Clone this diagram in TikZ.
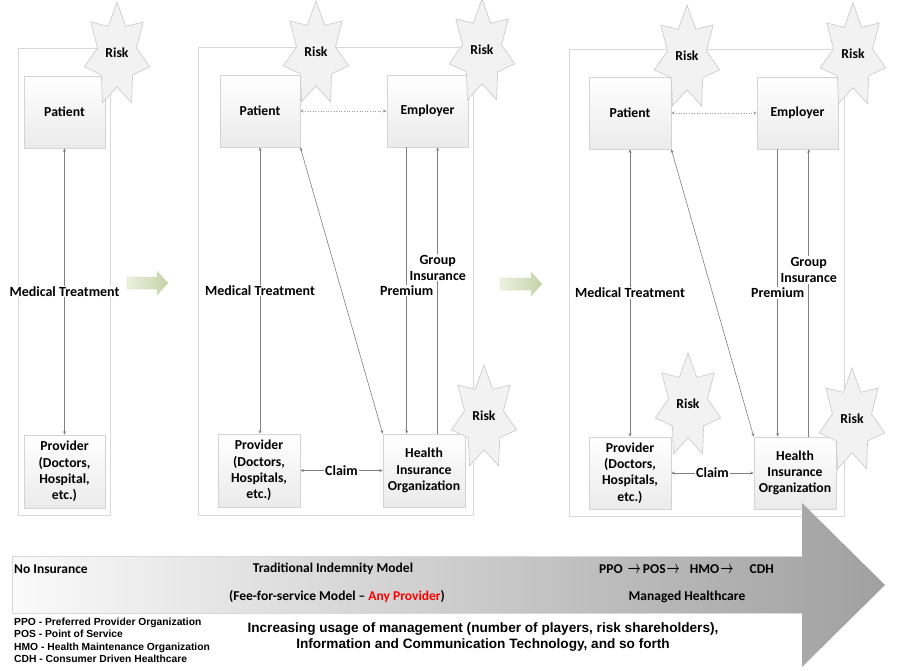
\documentclass[tikz,border=0pt]{standalone}
\usepackage{fontspec}
\usepackage{graphicx}
\setmainfont{Carlito}[BoldFont={Carlito Bold}]
\newfontfamily\arialf{Liberation Sans}[BoldFont={Liberation Sans Bold}]
\usetikzlibrary{arrows.meta,calc}
\definecolor{framec}{RGB}{217,217,217}
\definecolor{boxb}{RGB}{212,212,212}
\definecolor{linec}{RGB}{128,128,128}
\definecolor{starf}{RGB}{242,242,242}
\definecolor{stard}{RGB}{200,200,200}
\definecolor{greenA}{RGB}{236,241,224}
\definecolor{greenB}{RGB}{196,210,166}
\definecolor{bigA}{RGB}{250,250,250}
\definecolor{bigB}{RGB}{160,160,160}
\tikzset{
  >={Stealth[length=3.5pt,width=3pt]},
  frame/.style={draw=framec, line width=0.8pt, inner sep=0pt},
  box/.style={draw=boxb, line width=0.6pt, top color=white, bottom color=gray!16,
    minimum width=81pt, minimum height=72pt, inner sep=1pt, align=center,
    font=\bfseries\fontsize{13.7}{16.3}\selectfont},
  conn/.style={draw=linec, line width=0.6pt},
  dotconn/.style={draw=linec!80, line width=0.6pt, dotted},
  lbl/.style={fill=white, inner sep=1pt, align=center, font=\bfseries\fontsize{14}{16}\selectfont},
  riskshape/.style={fill=starf, draw=stard, line width=0.6pt},
  risktext/.style={inner sep=0pt, font=\bfseries\fontsize{13.7}{16}\selectfont},
  greenarrow/.style={left color=greenA, right color=greenB, draw=greenB!80, line width=0.4pt},
  bigarrow/.style={left color=bigA, right color=bigB, draw=none},
  arrtext/.style={inner sep=0pt, font=\bfseries\fontsize{13.5}{15}\selectfont},
}
\newcommand\riskstar[3]{%
  \draw[riskshape] ($(#2,#3)+(-90:33.5 and 53)$)
    \foreach \k in {1,...,7}{ -- ($(#2,#3)+({-90+(\k-0.5)*360/7}:20 and 31.8)$)
      -- ($(#2,#3)+({-90+\k*360/7}:33.5 and 53)$)} -- cycle;
  \node[risktext] (#1) at (#2,#3-2) {Risk};}
\newcommand\thinarrow{\scalebox{0.8}[1.25]{\boldmath$\rightarrow$}}
\begin{document}
\begin{tikzpicture}[x=1pt,y=-1pt]
\useasboundingbox (0,0) rectangle (902,671);
\fill[white] (0,0) rectangle (902,671);

% frames
\node[frame, minimum width=92pt, minimum height=467pt] (f1) at (64,281.5) {};
\node[frame, minimum width=275pt, minimum height=468pt] (f2) at (335.5,281) {};
\node[frame, minimum width=275pt, minimum height=467pt] (f3) at (706.5,282.5) {};

% panel 1
\node[box] (p1pat) at (64.5,112) {Patient};
\node[box, minimum height=73pt] (p1pro) at (64.5,471.5) {Provider\\(Doctors,\\Hospital,\\etc.)};
\draw[conn,<->] (p1pat.south) -- node[lbl] {Medical Treatment} (p1pro.north);

% panel 2
\node[box, minimum width=80pt] (p2pat) at (260,111) {Patient};
\node[box] (p2emp) at (427.5,111) {Employer};
\node[box, minimum width=82pt, minimum height=73pt] (p2pro) at (259,470.5) {Provider\\(Doctors,\\Hospitals,\\etc.)};
\node[box, minimum width=82pt, minimum height=73pt] (p2hio) at (424,470.5) {Health\\Insurance\\Organization};
\draw[conn,<->] (p2pat.south) -- node[lbl] {Medical Treatment} (p2pat.south |- p2pro.north);
\draw[dotconn,<->] (p2pat.east) -- (p2emp.west);
\coordinate (p2a) at ($(p2emp.south west)+(20,0)$);
\coordinate (p2b) at ($(p2emp.south west)+(51,0)$);
\draw[conn,->] (p2a) -- node[lbl, pos=0.5] {Premium} (p2a |- p2hio.north);
\draw[conn,->] (p2b |- p2hio.north) -- node[lbl, pos=0.58] {Group\\Insurance} (p2b);
\draw[conn,<->] (p2pat.south east) -- (p2hio.north west);
\draw[conn,<->] (p2pro.east) -- node[lbl] {Claim} (p2hio.west);

% panel 3
\node[box, minimum width=82pt] (p3pat) at (630,113) {Patient};
\node[box] (p3emp) at (797.5,113) {Employer};
\node[box, minimum width=82pt] (p3pro) at (630,473) {Provider\\(Doctors,\\Hospitals,\\etc.)};
\node[box, minimum width=82pt] (p3hio) at (795,473) {Health\\Insurance\\Organization};
\draw[conn,<->] (p3pat.south) -- node[lbl] {Medical Treatment} (p3pro.north);
\draw[dotconn,<->] (p3pat.east) -- (p3emp.west);
\coordinate (p3a) at ($(p3emp.south west)+(21,0)$);
\coordinate (p3b) at ($(p3emp.south west)+(52,0)$);
\draw[conn,->] (p3a) -- node[lbl, pos=0.5] {Premium} (p3a |- p3hio.north);
\draw[conn,->] (p3b |- p3hio.north) -- node[lbl, pos=0.58] {Group\\Insurance} (p3b);
\draw[conn,<->] (p3pat.south east) -- (p3hio.north west);
\draw[conn,<->] (p3pro.east) -- node[lbl] {Claim} (p3hio.west);

% risk stars
\riskstar{r1}{117}{55}
\riskstar{r2}{316}{54}
\riskstar{r3}{482}{52}
\riskstar{r4}{484}{418}
\riskstar{r5}{687}{58}
\riskstar{r6}{853}{56}
\riskstar{r7}{688}{406}
\riskstar{r8}{852}{421}

% green transition arrows
\path[greenarrow] (127,277) -- (157,277) -- (157,271) -- (168,283) -- (157,295) -- (157,289) -- (127,289) -- cycle;
\path[greenarrow] (500,278) -- (531,278) -- (531,272) -- (542,284) -- (531,296) -- (531,290) -- (500,290) -- cycle;

% big arrow
\path[bigarrow] (12,556) -- (802,556) -- (802,503) -- (885,585) -- (802,667) -- (802,613) -- (12,613) -- cycle;
\draw[framec, line width=0.6pt] (802,556) -- (12,556) -- (12,613) -- (802,613);

\node[arrtext, anchor=west] (t1) at (14,569) {No Insurance};
\node[arrtext] (t2) at (333,569) {Traditional Indemnity Model};
\node[arrtext] (t3) at (337,597) {(Fee-for-service Model -- \textcolor{red}{Any Provider})};
\node[arrtext] (t4) at (686.5,569) {PPO\hspace{5pt}\thinarrow\hspace{2pt}POS\hspace{1pt}\thinarrow\hspace{10pt}HMO\hspace{1pt}\thinarrow\hspace{16pt}CDH};
\node[arrtext] (t5) at (687,597) {Managed Healthcare};

\node[anchor=north west, align=left, inner sep=0pt, font=\arialf\bfseries\fontsize{10.3}{12.5}\selectfont] (legend) at (14,617.5)
  {PPO - Preferred Provider Organization\\POS - Point of Service\\HMO - Health Maintenance Organization\\CDH - Consumer Driven Healthcare};
\node[align=center, inner sep=0pt, font=\arialf\bfseries\fontsize{13.6}{16}\selectfont] (incr) at (483,637)
  {Increasing usage of management (number of players, risk shareholders),\\Information and Communication Technology, and so forth};
\end{tikzpicture}
\end{document}
